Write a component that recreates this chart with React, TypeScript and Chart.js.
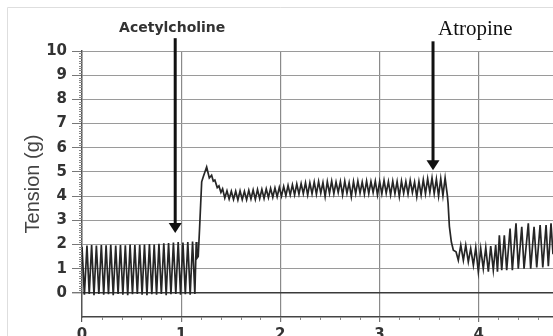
import React, { useEffect, useRef } from 'react';
import { Chart, registerables } from 'chart.js';

Chart.register(...registerables);

// ---- Data (time in arbitrary units, tension in g) ----
const baselineTime = [
  0.0, 0.024, 0.05, 0.073, 0.097, 0.121, 0.145, 0.17, 0.195, 0.219,
  0.243, 0.267, 0.29, 0.315, 0.34, 0.364, 0.388, 0.412, 0.437, 0.461,
  0.485, 0.509, 0.533, 0.558, 0.582, 0.606, 0.63, 0.655, 0.68, 0.704,
  0.728, 0.752, 0.776, 0.8, 0.825, 0.849, 0.873, 0.897, 0.922, 0.946,
  0.97, 0.994, 1.018, 1.042, 1.067, 1.091, 1.115, 1.138, 1.152,
];
const baselineTension = [
  1.9, -0.08, 1.95, -0.05, 1.98, -0.1, 1.96, -0.05, 1.98, -0.08,
  1.97, -0.06, 1.99, -0.1, 1.96, -0.05, 1.98, -0.08, 1.97, -0.1,
  2.0, -0.06, 1.98, -0.05, 1.99, -0.08, 2.0, -0.1, 2.02, -0.06,
  2.0, -0.08, 2.03, -0.05, 2.05, -0.1, 2.06, -0.06, 2.08, -0.05,
  2.1, -0.08, 2.08, -0.06, 2.1, -0.08, 2.12, -0.05, 2.1,
];

const achTime = [
  1.158, 1.172, 1.185, 1.196, 1.207, 1.223, 1.257, 1.284, 1.307, 1.324,
  1.34, 1.364, 1.381, 1.401, 1.418, 1.44, 1.462, 1.484, 1.506,
  1.528, 1.55, 1.572, 1.594, 1.616, 1.638, 1.66, 1.682, 1.704, 1.726,
  1.748, 1.77, 1.792, 1.814, 1.836, 1.858, 1.88, 1.902, 1.924, 1.946,
  1.968, 1.99, 2.012, 2.034, 2.056, 2.078, 2.1, 2.122, 2.144, 2.166,
  2.188, 2.21, 2.232, 2.254, 2.276, 2.298, 2.32, 2.342, 2.364, 2.386,
  2.408, 2.43, 2.452, 2.474, 2.496, 2.518, 2.54, 2.562, 2.584, 2.606,
  2.628, 2.65, 2.672, 2.694, 2.716, 2.738, 2.76, 2.782, 2.804, 2.826,
  2.848, 2.87, 2.892, 2.914, 2.936, 2.958, 2.98, 3.002, 3.024, 3.046,
  3.068, 3.09, 3.112, 3.134, 3.156, 3.178, 3.2, 3.222, 3.244, 3.266,
  3.288, 3.31, 3.332, 3.354, 3.376, 3.398, 3.42, 3.442, 3.464, 3.486,
  3.508, 3.53, 3.552, 3.574, 3.596, 3.618, 3.64, 3.662, 3.684,
];
const achTension = [
  1.42, 1.5, 2.6, 3.6, 4.59, 4.8, 5.2, 4.75, 4.86, 4.62,
  4.66, 4.35, 4.42, 4.15, 4.3, 3.92, 4.22, 3.88, 4.2,
  3.86, 4.2, 3.84, 4.22, 3.86, 4.2, 3.85, 4.24, 3.88, 4.25,
  3.86, 4.27, 3.9, 4.28, 3.9, 4.3, 3.94, 4.32, 3.95, 4.34,
  3.97, 4.36, 4.0, 4.4, 4.02, 4.44, 4.05, 4.47, 4.05, 4.5,
  4.08, 4.52, 4.1, 4.55, 4.05, 4.55, 4.1, 4.58, 4.08, 4.6,
  4.12, 4.56, 3.98, 4.6, 4.12, 4.62, 4.1, 4.58, 4.15, 4.6,
  4.05, 4.62, 4.12, 4.55, 3.98, 4.6, 4.1, 4.62, 4.12, 4.58,
  4.08, 4.62, 4.1, 4.6, 4.15, 4.62, 4.05, 4.6, 4.1, 4.65,
  4.12, 4.6, 4.05, 4.62, 4.1, 4.6, 3.98, 4.62, 4.12, 4.6,
  4.08, 4.65, 4.15, 4.58, 3.98, 4.6, 4.05, 4.68, 4.1, 4.72,
  4.15, 4.75, 4.1, 4.7, 4.0, 4.72, 4.02, 4.75, 4.05,
];

const atropineTime = [
  3.692, 3.705, 3.725, 3.745, 3.772, 3.795, 3.82, 3.846, 3.87, 3.896,
  3.92, 3.947, 3.971, 3.997, 4.021, 4.047, 4.072, 4.098, 4.122, 4.148,
  4.172, 4.19, 4.209, 4.233, 4.259, 4.283, 4.317, 4.34, 4.377, 4.4,
  4.435, 4.458, 4.501, 4.525, 4.559, 4.586, 4.62, 4.647, 4.68, 4.703,
  4.73, 4.75,
];
const atropineTension = [
  3.7, 2.75, 2.1, 1.76, 1.7, 1.35, 1.97, 1.35, 1.97, 1.28,
  1.83, 1.14, 1.87, 0.87, 1.83, 1.0, 1.87, 0.87, 1.93, 0.94,
  1.97, 0.87, 2.38, 0.94, 2.38, 0.94, 2.66, 0.94, 2.87, 1.0,
  2.73, 1.0, 2.87, 1.0, 2.73, 1.05, 2.8, 1.05, 2.8, 1.1,
  2.87, 1.6,
];

// ---- Axis labels ----
const xTickLabels = ['0', '1', '2', '3', '4'];
const yTickLabels = ['', '0', '1', '2', '3', '4', '5', '6', '7', '8', '9', '10'];
const yAxisTitle = 'Tension (g)';

// ---- Drug-addition markers (time, arrow top, arrow tip) ----
const markerNames = ['Acetylcholine', 'Atropine'];
const markerTime = [0.94, 3.54];
const markerTop = [10.53, 10.4];
const markerTip = [2.47, 5.07];

const CANVAS_W = 553;
const CANVAS_H = 345;

function toPoints(t: number[], v: number[]) {
  const n = Math.min(t.length, v.length);
  const out: { x: number; y: number }[] = [];
  for (let i = 0; i < n; i++) out.push({ x: t[i], y: v[i] });
  return out;
}

const decorPlugin = {
  id: 'decor',
  beforeDraw(chart: any) {
    const ctx = chart.ctx;
    ctx.save();
    ctx.fillStyle = '#ffffff';
    ctx.fillRect(0, 0, chart.width, chart.height);
    ctx.strokeStyle = '#dedede';
    ctx.lineWidth = 1;
    ctx.beginPath();
    ctx.moveTo(7.5, chart.height);
    ctx.lineTo(7.5, 7.5);
    ctx.lineTo(chart.width, 7.5);
    ctx.stroke();
    ctx.restore();
  },
  afterDraw(chart: any) {
    const ctx = chart.ctx;
    const xs = chart.scales.x;
    const ys = chart.scales.y;
    const area = chart.chartArea;
    ctx.save();
    // minor ticks on y axis (0.1 steps between the labelled values)
    ctx.strokeStyle = '#888';
    ctx.lineWidth = 1;
    ctx.beginPath();
    for (let k = 1; k < 100; k++) {
      if (k % 10 === 0) continue;
      const y = Math.round(ys.getPixelForValue(k / 10)) + 0.5;
      ctx.moveTo(area.left - 3, y);
      ctx.lineTo(area.left, y);
    }
    // minor ticks on x axis (0.2 steps)
    for (let k = 1; k * 0.2 <= 4.75; k++) {
      if (k % 5 === 0) continue;
      const x = Math.round(xs.getPixelForValue(k * 0.2)) + 0.5;
      ctx.moveTo(x, area.bottom);
      ctx.lineTo(x, area.bottom + 3);
    }
    ctx.stroke();

    // arrows
    ctx.strokeStyle = '#111';
    ctx.fillStyle = '#111';
    for (let i = 0; i < markerNames.length; i++) {
      const x = xs.getPixelForValue(markerTime[i]);
      const yTop = ys.getPixelForValue(markerTop[i]);
      const yTip = ys.getPixelForValue(markerTip[i]);
      ctx.lineWidth = 3;
      ctx.beginPath();
      ctx.moveTo(x, yTop);
      ctx.lineTo(x, yTip - 8);
      ctx.stroke();
      ctx.beginPath();
      ctx.moveTo(x - 6.5, yTip - 10);
      ctx.lineTo(x + 6.5, yTip - 10);
      ctx.lineTo(x, yTip);
      ctx.closePath();
      ctx.fill();
    }

    // marker texts
    const x0 = xs.getPixelForValue(markerTime[0]);
    ctx.fillStyle = '#333';
    ctx.font = 'bold 14px "DejaVu Sans"';
    ctx.textAlign = 'center';
    ctx.textBaseline = 'alphabetic';
    ctx.fillText(markerNames[0], x0 - 3, 32);

    const x1 = xs.getPixelForValue(markerTime[1]);
    ctx.fillStyle = '#111';
    ctx.font = '21px "Liberation Serif"';
    ctx.textAlign = 'left';
    ctx.fillText(markerNames[1], x1 + 5, 35);
    ctx.restore();
  },
};

export default function App() {
  const canvasRef = useRef<HTMLCanvasElement | null>(null);

  useEffect(() => {
    if (!canvasRef.current) return;
    const points = [
      ...toPoints(baselineTime, baselineTension),
      ...toPoints(achTime, achTension),
      ...toPoints(atropineTime, atropineTension),
    ];
    const tickFont = { family: '"DejaVu Sans"', size: 15, weight: 'bold' as const };
    const chart = new Chart(canvasRef.current, {
      type: 'line',
      data: {
        datasets: [
          {
            label: yAxisTitle,
            data: points,
            borderColor: '#262626',
            borderWidth: 1.7,
            pointRadius: 0,
            tension: 0,
            fill: false,
          },
        ],
      },
      options: {
        animation: false,
        responsive: false,
        events: [],
        layout: { padding: { top: 51, left: 0, right: 0, bottom: 0 } },
        plugins: {
          legend: { display: false },
          tooltip: { enabled: false },
        },
        scales: {
          x: {
            type: 'linear',
            min: 0,
            max: 4.75,
            afterFit: (s: any) => {
              s.height = CANVAS_H - 317;
            },
            ticks: {
              stepSize: 1,
              includeBounds: false,
              autoSkip: false,
              maxRotation: 0,
              padding: 4,
              color: '#333',
              font: tickFont,
              callback: (_v: any, i: number) => xTickLabels[i] ?? '',
            },
            grid: {
              color: (c: any) => (c.tick && c.tick.value === 0 ? 'rgba(0,0,0,0)' : '#8a8a8a'),
              tickColor: (c: any) => (c.tick && c.tick.value === 0 ? '#555' : '#777'),
              lineWidth: 1.2,
              tickLength: 5,
            },
            border: { color: '#444', width: 1.5 },
          },
          y: {
            type: 'linear',
            min: -1,
            max: 10,
            afterFit: (s: any) => {
              s.width = 82;
            },
            ticks: {
              stepSize: 1,
              autoSkip: false,
              padding: 5,
              color: '#333',
              font: tickFont,
              callback: (_v: any, i: number) => yTickLabels[i] ?? '',
            },
            grid: {
              color: (c: any) => {
                const v = c.tick ? c.tick.value : null;
                if (v === -1) return 'rgba(0,0,0,0)';
                if (v === 0) return '#3a3a3a';
                return '#9a9a9a';
              },
              tickColor: (c: any) => (c.tick && c.tick.value === -1 ? 'rgba(0,0,0,0)' : '#777'),
              lineWidth: (c: any) => (c.tick && c.tick.value === 0 ? 1.4 : 1),
              tickLength: 10,
            },
            border: { color: '#555', width: 1.5 },
            title: {
              display: true,
              text: yAxisTitle,
              color: '#444',
              font: { family: '"Liberation Sans", Arial', size: 20, weight: 'normal' as const },
              padding: { top: 21, bottom: 0 },
            },
          },
        },
      },
      plugins: [decorPlugin],
    } as any);
    return () => chart.destroy();
  }, []);

  return (
    <div
      style={{
        position: 'fixed',
        left: 0,
        top: 0,
        width: CANVAS_W,
        height: 336,
        overflow: 'hidden',
        background: '#fff',
      }}
    >
      <canvas
        ref={canvasRef}
        width={CANVAS_W}
        height={CANVAS_H}
        style={{ display: 'block', width: CANVAS_W, height: CANVAS_H }}
      />
    </div>
  );
}
